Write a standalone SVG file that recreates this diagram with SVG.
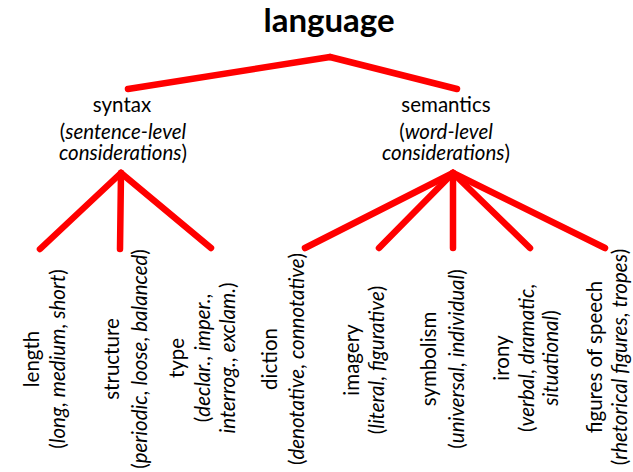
<svg xmlns="http://www.w3.org/2000/svg" width="633" height="472" viewBox="0 0 633 472">
<style>
text{font-family:Lato,"Liberation Sans",sans-serif;font-size:20.5px;fill:#000;text-anchor:middle}
.t{font-size:33px;font-weight:bold}
.i{font-style:italic}
.c line{stroke:#ff0000;stroke-width:6.5;stroke-linecap:round}
</style>
<rect width="633" height="472" fill="#fff"/>
<g class="c" id="connectors">
<line x1="330" y1="57" x2="128" y2="89"/>
<line x1="330" y1="57" x2="457" y2="89"/>
<line x1="121" y1="173" x2="40" y2="249"/>
<line x1="121" y1="173" x2="120" y2="249"/>
<line x1="121" y1="173" x2="211" y2="248"/>
<line x1="453" y1="173" x2="305" y2="248"/>
<line x1="453" y1="173" x2="379" y2="248"/>
<line x1="453" y1="173" x2="453" y2="248"/>
<line x1="453" y1="173" x2="530" y2="248"/>
<line x1="453" y1="173" x2="605" y2="248"/>
</g>
<g id="n-language"><text class="t" x="329" y="32">language</text></g>
<g id="n-syntax">
<text x="122" y="112">syntax</text>
<text x="123" y="139">(<tspan class="i">sentence-level</tspan></text>
<text x="123" y="160"><tspan class="i">considerations</tspan>)</text>
</g>
<g id="n-semantics">
<text x="446" y="112">semantics</text>
<text x="446" y="139">(<tspan class="i">word-level</tspan></text>
<text x="446" y="160"><tspan class="i">considerations</tspan>)</text>
</g>
<g id="n-length" transform="translate(0,359) rotate(-90)">
<text x="0" y="39">length</text>
<text x="0" y="65">(<tspan class="i">long</tspan>, <tspan class="i">medium</tspan>, <tspan class="i">short</tspan>)</text>
</g>
<g id="n-structure" transform="translate(0,359) rotate(-90)">
<text x="0" y="119">structure</text>
<text x="0" y="147">(<tspan class="i">periodic</tspan>, <tspan class="i">loose</tspan>, <tspan class="i">balanced</tspan>)</text>
</g>
<g id="n-type" transform="translate(0,358) rotate(-90)">
<text x="0" y="184">type</text>
<text x="0" y="210">(<tspan class="i">declar.</tspan>, <tspan class="i">imper.</tspan>,</text>
<text x="0" y="235"><tspan class="i">interrog.</tspan>, <tspan class="i">exclam.</tspan>)</text>
</g>
<g id="n-diction" transform="translate(0,359) rotate(-90)">
<text x="0" y="277">diction</text>
<text x="0" y="304">(<tspan class="i">denotative</tspan>, <tspan class="i">connotative</tspan>)</text>
</g>
<g id="n-imagery" transform="translate(0,360) rotate(-90)">
<text x="0" y="359">imagery</text>
<text x="0" y="384">(<tspan class="i">literal</tspan>, <tspan class="i">figurative</tspan>)</text>
</g>
<g id="n-symbolism" transform="translate(0,359) rotate(-90)">
<text x="0" y="436">symbolism</text>
<text x="0" y="464">(<tspan class="i">universal</tspan>, <tspan class="i">individual</tspan>)</text>
</g>
<g id="n-irony" transform="translate(0,358) rotate(-90)">
<text x="0" y="509">irony</text>
<text x="0" y="534">(<tspan class="i">verbal</tspan>, <tspan class="i">dramatic</tspan>,</text>
<text x="0" y="558"><tspan class="i">situational</tspan>)</text>
</g>
<g id="n-figures" transform="translate(0,357) rotate(-90)">
<text x="0" y="602">figures of speech</text>
<text x="0" y="627">(<tspan class="i">rhetorical figures</tspan>, <tspan class="i">tropes</tspan>)</text>
</g>
</svg>
